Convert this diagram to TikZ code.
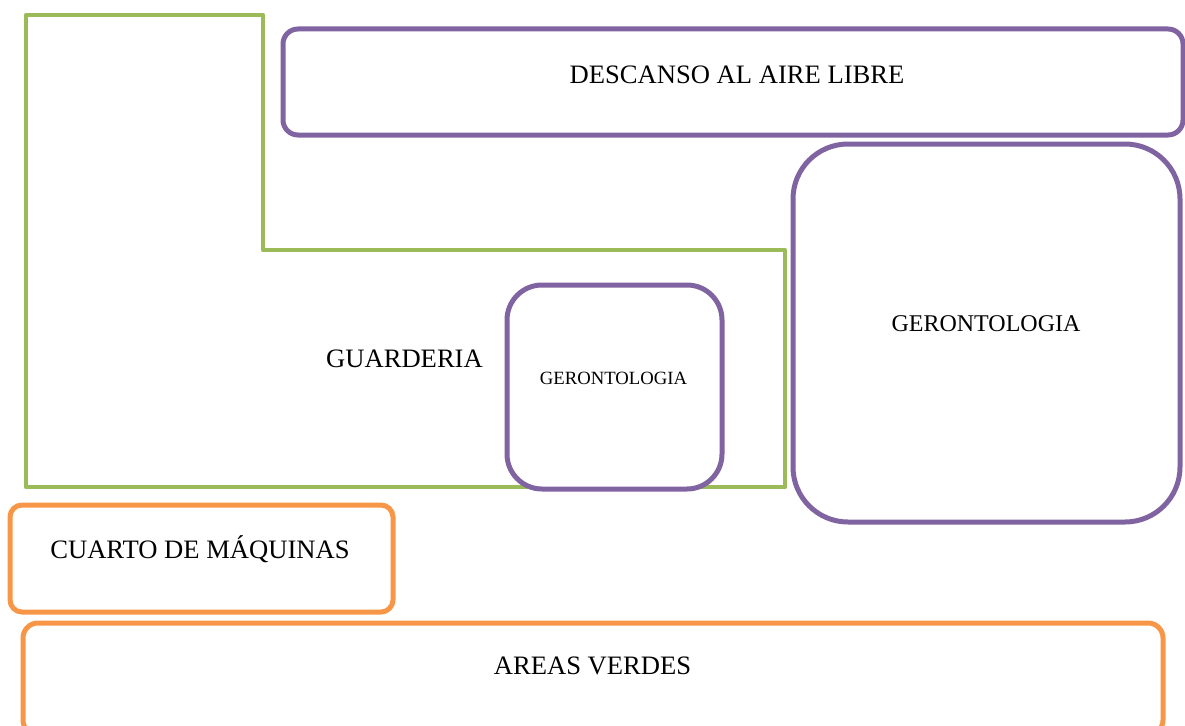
\documentclass[tikz,border=0pt]{standalone}
\usepackage{fontspec}
\setmainfont{Liberation Serif}
\definecolor{gGreen}{HTML}{9BBB59}
\definecolor{gPurple}{HTML}{8064A2}
\definecolor{gOrange}{HTML}{F79646}
\begin{document}
\begin{tikzpicture}[x=1pt,y=-1pt,
  room/.style={draw=#1,line width=5pt,rectangle,inner sep=0pt,outer sep=0pt},
  lbl/.style={anchor=base,inner sep=0pt,font=\fontsize{26.6}{30}\selectfont},
  lblM/.style={anchor=base,inner sep=0pt,font=\fontsize{24}{28}\selectfont},
  lblS/.style={anchor=base,inner sep=0pt,font=\fontsize{18.7}{22}\selectfont}]
\useasboundingbox (0,0) rectangle (1185,725);
\clip (0,0) rectangle (1185,725);
% guarderia L-shape
\coordinate (g1) at (26,15);
\coordinate (g2) at (263,15);
\coordinate (g3) at (263,250);
\coordinate (g4) at (785,250);
\coordinate (g5) at (785,487);
\coordinate (g6) at (26,487);
\draw[gGreen,line width=4.5pt,line join=round] (g1) -- (g2) -- (g3) -- (g4) -- (g5) -- (g6) -- cycle;
\node[lbl] (guarderia) at (404.5,367) {GUARDERIA};
% descanso
\node[room=gPurple,rounded corners=15pt,minimum width=900pt,minimum height=106pt] (descanso) at (733,82) {};
\node[lbl] (descansoT) at (737,83) {DESCANSO AL AIRE LIBRE};
% big gerontologia
\node[room=gPurple,rounded corners=55pt,minimum width=387pt,minimum height=378pt] (gero) at (986.5,333) {};
\node[lblM] (geroT) at (986,331) {GERONTOLOGIA};
% small gerontologia
\node[room=gPurple,rounded corners=35pt,minimum width=215pt,minimum height=204pt,fill=white] (geroS) at (614.5,387) {};
\node[lblS] (geroST) at (613.5,384) {GERONTOLOGIA};
% cuarto de maquinas
\node[room=gOrange,rounded corners=12pt,minimum width=383pt,minimum height=107pt] (cuarto) at (201.5,558.5) {};
\node[lbl] (cuartoT) at (200,558) {CUARTO DE MÁQUINAS};
% areas verdes
\node[room=gOrange,rounded corners=15pt,minimum width=1140pt,minimum height=112pt] (areas) at (593,679) {};
\node[lbl] (areasT) at (592.5,674) {AREAS VERDES};
\end{tikzpicture}
\end{document}
